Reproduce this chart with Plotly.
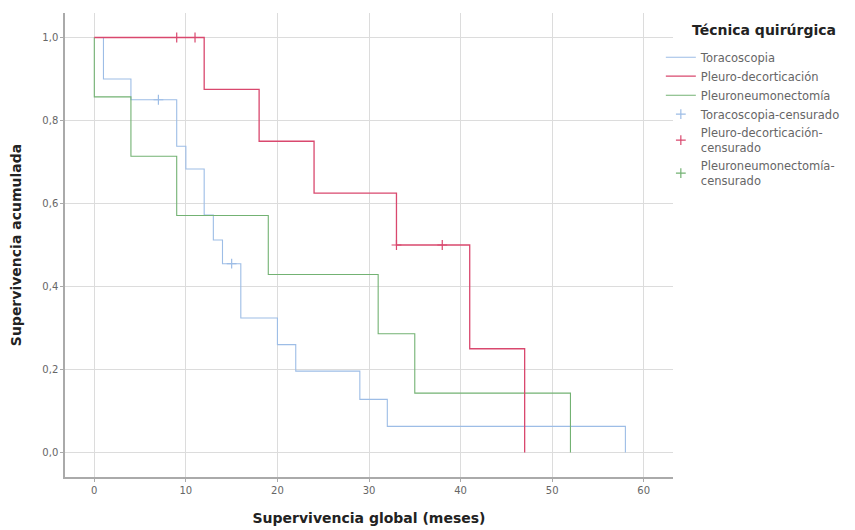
import plotly.graph_objects as go

# Toracoscopia (step curve)
tor_t = [0, 1, 4, 9, 10, 12, 13, 14, 16, 20, 22, 29, 32, 58]
tor_s = [1.0, 0.90, 0.85, 0.738, 0.683, 0.572, 0.512, 0.455, 0.324, 0.26, 0.196, 0.128, 0.063, 0.0]
tor_cens_t = [7, 15]
tor_cens_s = [0.85, 0.455]

# Pleuro-decorticación
pd_t = [0, 12, 18, 24, 33, 41, 47]
pd_s = [1.0, 0.875, 0.75, 0.625, 0.5, 0.25, 0.0]
pd_cens_t = [9, 11, 33, 38]
pd_cens_s = [1.0, 1.0, 0.5, 0.5]

# Pleuroneumonectomía
pn_t = [0, 0, 4, 9, 19, 31, 35, 52]
pn_s = [1.0, 0.857, 0.714, 0.571, 0.429, 0.286, 0.143, 0.0]
pn_cens_t = []
pn_cens_s = []

c_blue = "#9dbde6"
c_red = "#d9486e"
c_green = "#73b273"

FONT = "DejaVu Sans, Arial, sans-serif"

fig = go.Figure()
fig.add_trace(go.Scatter(x=tor_t, y=tor_s, mode="lines", line_shape="hv", legendrank=1,
                         line=dict(color=c_blue, width=1.1), name="Toracoscopia"))
fig.add_trace(go.Scatter(x=pn_t, y=pn_s, mode="lines", line_shape="hv", legendrank=3,
                         line=dict(color=c_green, width=1.1), name="Pleuroneumonectomía"))
fig.add_trace(go.Scatter(x=pd_t, y=pd_s, mode="lines", line_shape="hv", legendrank=2,
                         line=dict(color=c_red, width=1.3), name="Pleuro-decorticación"))
fig.add_trace(go.Scatter(x=tor_cens_t, y=tor_cens_s, mode="markers", legendrank=4,
                         marker=dict(symbol="cross-thin-open", size=7, color=c_blue,
                                     line=dict(color=c_blue, width=1.2)),
                         name="Toracoscopia-censurado"))
fig.add_trace(go.Scatter(x=pd_cens_t, y=pd_cens_s, mode="markers", legendrank=5,
                         marker=dict(symbol="cross-thin-open", size=7, color=c_red,
                                     line=dict(color=c_red, width=1.2)),
                         name="Pleuro-decorticación-<br>censurado"))
fig.add_trace(go.Scatter(x=pn_cens_t if pn_cens_t else [None], y=pn_cens_s if pn_cens_s else [None],
                         mode="markers", legendrank=6,
                         marker=dict(symbol="cross-thin-open", size=7, color=c_green,
                                     line=dict(color=c_green, width=1.2)),
                         name="Pleuroneumonectomía-<br>censurado"))

fig.update_layout(
    width=847, height=522,
    margin=dict(l=57, r=182, t=5, b=53, autoexpand=False),
    paper_bgcolor="white", plot_bgcolor="white",
    separators=",.",
    font=dict(family=FONT, color="#555555", size=10),
    showlegend=True,
    legend=dict(
        x=0.98, xanchor="left", y=0.936, yanchor="top",
        font=dict(family=FONT, size=11.5, color="#666666"),
        tracegroupgap=0, itemwidth=30,
        bgcolor="rgba(0,0,0,0)",
    ),
    annotations=[dict(
        text="<b>Técnica quirúrgica</b>", xref="paper", yref="paper",
        x=1.028, y=0.963, xanchor="left", yanchor="middle", showarrow=False,
        font=dict(family=FONT, size=14, color="#222222"),
    )],
    xaxis=dict(
        range=[-3.2, 63.2], tickvals=[0, 10, 20, 30, 40, 50, 60],
        showgrid=True, gridcolor="#dcdcdc", gridwidth=1,
        showline=True, linecolor="#aaaaaa", linewidth=1.5,
        ticks="outside", ticklen=3, tickcolor="#aaaaaa",
        zeroline=False, tickfont=dict(family=FONT, size=10, color="#666666"),
        automargin=False,
        title=dict(text="<b>Supervivencia global (meses)</b>",
                   font=dict(family=FONT, size=14, color="#222222"), standoff=18),
    ),
    yaxis=dict(
        range=[-0.059, 1.059], tickvals=[0, 0.2, 0.4, 0.6, 0.8, 1.0], tickformat=".1f",
        showgrid=True, gridcolor="#dcdcdc", gridwidth=1,
        showline=True, linecolor="#aaaaaa", linewidth=1.5,
        ticks="outside", ticklen=3, tickcolor="#aaaaaa",
        zeroline=False, tickfont=dict(family=FONT, size=10, color="#666666"),
        automargin=False,
        title=dict(text="<b>Supervivencia acumulada</b>",
                   font=dict(family=FONT, size=14, color="#222222"), standoff=18),
    ),
)

fig.write_html("out.html")
